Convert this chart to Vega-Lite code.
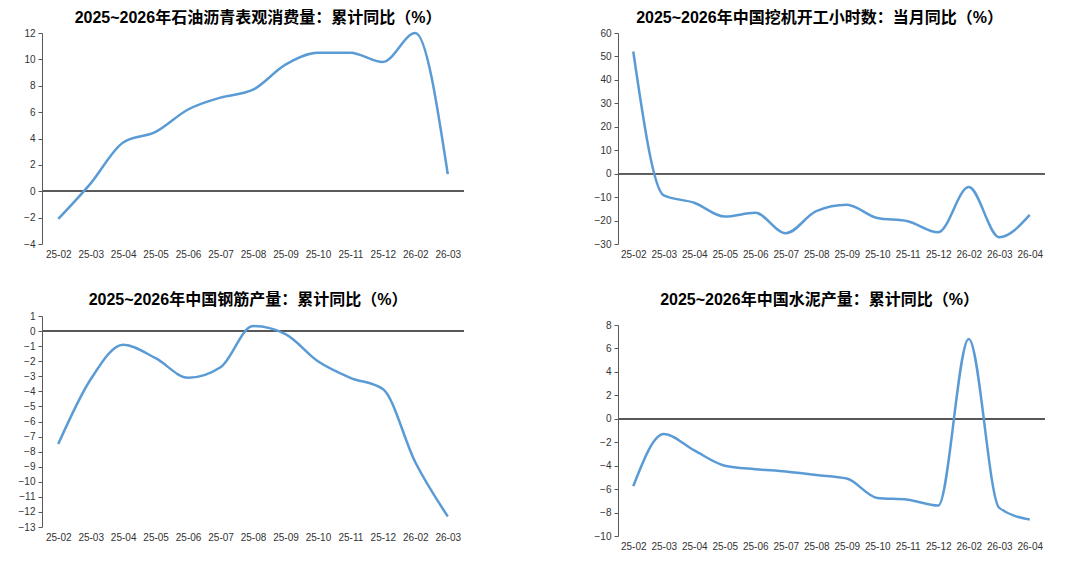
{
  "$schema": "https://vega.github.io/schema/vega-lite/v6.json",
  "background": "white",
  "padding": {"left": 18, "top": 10, "right": 5, "bottom": 5},
  "datasets": {
    "asphalt": [
      {"m": "25-02", "v": -2.1}, {"m": "25-03", "v": 0.6}, {"m": "25-04", "v": 3.7},
      {"m": "25-05", "v": 4.5}, {"m": "25-06", "v": 6.2}, {"m": "25-07", "v": 7.1},
      {"m": "25-08", "v": 7.7}, {"m": "25-09", "v": 9.6}, {"m": "25-10", "v": 10.5},
      {"m": "25-11", "v": 10.5}, {"m": "25-12", "v": 9.8}, {"m": "26-02", "v": 12.0},
      {"m": "26-03", "v": 1.3}
    ],
    "excavator": [
      {"m": "25-02", "v": 52.1}, {"m": "25-03", "v": -9.3}, {"m": "25-04", "v": -12.4},
      {"m": "25-05", "v": -18.3}, {"m": "25-06", "v": -16.7}, {"m": "25-07", "v": -25.4},
      {"m": "25-08", "v": -16.0}, {"m": "25-09", "v": -13.3}, {"m": "25-10", "v": -18.9},
      {"m": "25-11", "v": -20.3}, {"m": "25-12", "v": -25.0}, {"m": "26-02", "v": -5.7},
      {"m": "26-03", "v": -27.1}, {"m": "26-04", "v": -17.6}
    ],
    "rebar": [
      {"m": "25-02", "v": -7.5}, {"m": "25-03", "v": -3.2}, {"m": "25-04", "v": -0.9},
      {"m": "25-05", "v": -1.8}, {"m": "25-06", "v": -3.1}, {"m": "25-07", "v": -2.4},
      {"m": "25-08", "v": 0.33}, {"m": "25-09", "v": -0.2}, {"m": "25-10", "v": -2.0},
      {"m": "25-11", "v": -3.1}, {"m": "25-12", "v": -3.85}, {"m": "26-02", "v": -8.7},
      {"m": "26-03", "v": -12.3}
    ],
    "cement": [
      {"m": "25-02", "v": -5.75}, {"m": "25-03", "v": -1.3}, {"m": "25-04", "v": -2.7},
      {"m": "25-05", "v": -4.0}, {"m": "25-06", "v": -4.3}, {"m": "25-07", "v": -4.5},
      {"m": "25-08", "v": -4.8}, {"m": "25-09", "v": -5.1}, {"m": "25-10", "v": -6.75},
      {"m": "25-11", "v": -6.9}, {"m": "25-12", "v": -7.4}, {"m": "26-02", "v": 6.8},
      {"m": "26-03", "v": -7.6}, {"m": "26-04", "v": -8.6}
    ]
  },
  "config": {
    "view": {"stroke": null},
    "font": "Liberation Sans",
    "title": {
      "font": "Liberation Sans, Noto Sans CJK SC",
      "fontSize": 16,
      "fontWeight": "bold",
      "color": "#000000",
      "anchor": "middle",
      "frame": "group"
    },
    "axis": {
      "labelFont": "Liberation Sans",
      "labelFontSize": 10,
      "labelColor": "#333333",
      "grid": false,
      "title": null
    },
    "axisX": {
      "domain": false,
      "ticks": false,
      "labelAngle": 0,
      "labelPadding": 5,
      "labelOverlap": false
    },
    "axisY": {
      "domainColor": "#595959",
      "tickColor": "#595959",
      "tickSize": 4,
      "labelPadding": 3,
      "labelOverlap": false
    },
    "line": {"color": "#5B9BD5", "strokeWidth": 2.5, "interpolate": "monotone"},
    "rule": {"color": "#595959", "strokeWidth": 1}
  },
  "concat": [
    {
      "title": {"text": "2025~2026年石油沥青表观消费量：累计同比（%）", "offset": 2, "dx": 5},
      "width": 422,
      "height": 211,
      "data": {"name": "asphalt"},
      "layer": [
        {"mark": "rule", "encoding": {"y": {"datum": 0, "type": "quantitative", "scale": {"domain": [-4, 12], "nice": false},
          "axis": {"values": [-4, -2, 0, 2, 4, 6, 8, 10, 12], "labelOverlap": false}}}},
        {
          "mark": "line",
          "encoding": {
            "x": {"field": "m", "type": "ordinal", "sort": null, "scale": {"padding": 0.5}},
            "y": {"field": "v", "type": "quantitative", "scale": {"domain": [-4, 12], "nice": false},
              "axis": {"values": [-4, -2, 0, 2, 4, 6, 8, 10, 12], "labelOverlap": false}}
          }
        }
      ]
    },
    {
      "title": {"text": "2025~2026年中国挖机开工小时数：当月同比（%）", "offset": 2, "dx": -12},
      "width": 427,
      "height": 211,
      "data": {"name": "excavator"},
      "layer": [
        {"mark": "rule", "encoding": {"y": {"datum": 0, "type": "quantitative", "scale": {"domain": [-30, 60], "nice": false},
          "axis": {"values": [-30, -20, -10, 0, 10, 20, 30, 40, 50, 60], "labelOverlap": false}}}},
        {
          "mark": "line",
          "encoding": {
            "x": {"field": "m", "type": "ordinal", "sort": null, "scale": {"padding": 0.5}},
            "y": {"field": "v", "type": "quantitative", "scale": {"domain": [-30, 60], "nice": false},
              "axis": {"values": [-30, -20, -10, 0, 10, 20, 30, 40, 50, 60], "labelOverlap": false}}
          }
        }
      ]
    },
    {
      "title": {"text": "2025~2026年中国钢筋产量：累计同比（%）", "offset": 3, "dx": -5},
      "width": 422,
      "height": 211,
      "data": {"name": "rebar"},
      "layer": [
        {"mark": "rule", "encoding": {"y": {"datum": 0, "type": "quantitative", "scale": {"domain": [-13, 1], "nice": false},
          "axis": {"values": [-13, -12, -11, -10, -9, -8, -7, -6, -5, -4, -3, -2, -1, 0, 1], "labelOverlap": false}}}},
        {
          "mark": "line",
          "encoding": {
            "x": {"field": "m", "type": "ordinal", "sort": null, "scale": {"padding": 0.5}},
            "y": {"field": "v", "type": "quantitative", "scale": {"domain": [-13, 1], "nice": false},
              "axis": {"values": [-13, -12, -11, -10, -9, -8, -7, -6, -5, -4, -3, -2, -1, 0, 1], "labelOverlap": false}}
          }
        }
      ]
    },
    {
      "title": {"text": "2025~2026年中国水泥产量：累计同比（%）", "offset": 12, "dx": -12},
      "width": 427,
      "height": 211,
      "data": {"name": "cement"},
      "layer": [
        {"mark": "rule", "encoding": {"y": {"datum": 0, "type": "quantitative", "scale": {"domain": [-10, 8], "nice": false},
          "axis": {"values": [-10, -8, -6, -4, -2, 0, 2, 4, 6, 8], "labelOverlap": false}}}},
        {
          "mark": "line",
          "encoding": {
            "x": {"field": "m", "type": "ordinal", "sort": null, "scale": {"padding": 0.5}},
            "y": {"field": "v", "type": "quantitative", "scale": {"domain": [-10, 8], "nice": false},
              "axis": {"values": [-10, -8, -6, -4, -2, 0, 2, 4, 6, 8], "labelOverlap": false}}
          }
        }
      ]
    }
  ],
  "columns": 2,
  "align": {"row": "none", "column": "all"},
  "spacing": {"row": 33, "column": 124}
}
